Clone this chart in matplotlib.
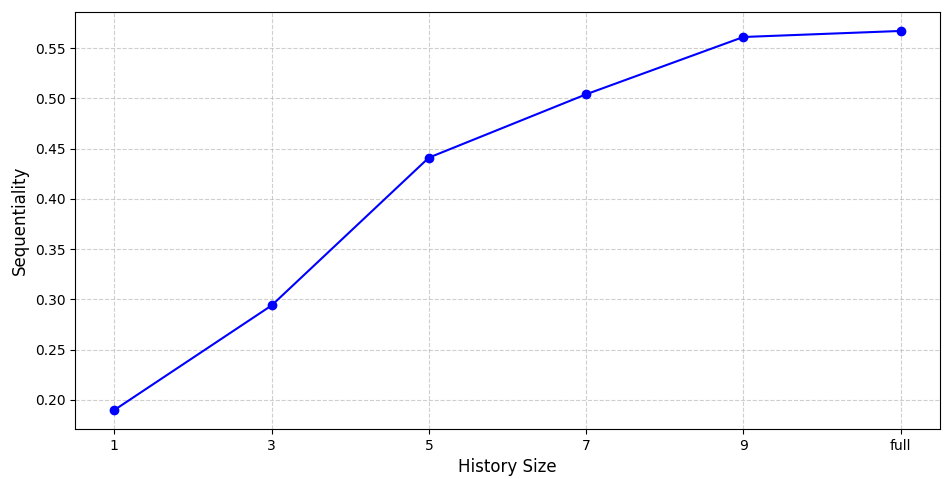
import matplotlib
matplotlib.use("Agg")
import matplotlib.pyplot as plt

history_sizes = ["1", "3", "5", "7", "9", "full"]
sequentiality = [0.190, 0.294, 0.441, 0.504, 0.561, 0.567]

W, H = 953, 479
fig = plt.figure(figsize=(W / 100, H / 100), dpi=100)
ax = fig.add_axes([75 / W, (H - 429) / H, (940 - 75) / W, (429 - 12) / H])
x = list(range(len(history_sizes)))
ax.plot(x, sequentiality, marker="o", color="blue")
ax.set_xticks(x)
ax.set_xticklabels(history_sizes)
ax.set_xlabel("History Size", fontsize=12)
ax.set_ylabel("Sequentiality", fontsize=12)
ax.grid(True, linestyle="--", alpha=0.6)
fig.savefig("out.png", dpi=100)
